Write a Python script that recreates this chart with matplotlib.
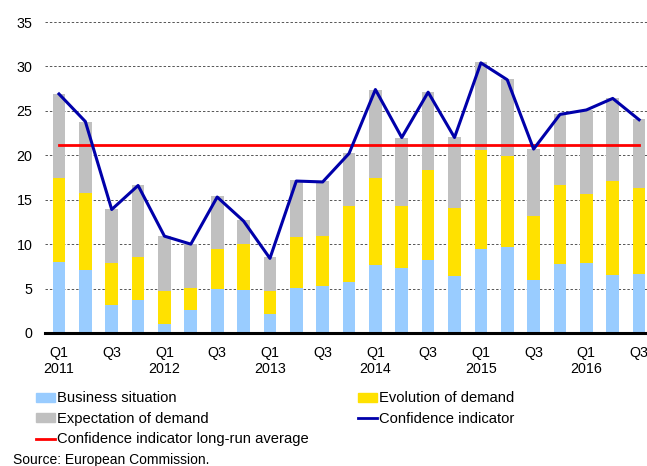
import numpy as np
import matplotlib
matplotlib.use('Agg')
from matplotlib import pylab as plt
from matplotlib.patches import Patch
from matplotlib.lines import Line2D

plt.rcParams['font.family'] = ['Liberation Sans', 'DejaVu Sans']
plt.rcParams['font.size'] = 10

# quarters 2011Q1 .. 2016Q3
quarters = ['2011Q1', '2011Q2', '2011Q3', '2011Q4', '2012Q1', '2012Q2', '2012Q3', '2012Q4',
            '2013Q1', '2013Q2', '2013Q3', '2013Q4', '2014Q1', '2014Q2', '2014Q3', '2014Q4',
            '2015Q1', '2015Q2', '2015Q3', '2015Q4', '2016Q1', '2016Q2', '2016Q3']
business = [8.0, 7.1, 3.2, 3.7, 1.05, 2.6, 4.9, 4.8, 2.1, 5.1, 5.3, 5.7,
            7.6, 7.3, 8.2, 6.4, 9.4, 9.7, 6.0, 7.8, 7.9, 6.5, 6.6]
evolution = [9.4, 8.7, 4.7, 4.9, 3.65, 2.5, 4.6, 5.2, 2.6, 5.7, 5.6, 8.6,
             9.8, 7.0, 10.2, 7.7, 11.2, 10.2, 7.2, 8.9, 7.7, 10.6, 9.7]
expectation = [9.5, 8.0, 6.0, 8.1, 6.2, 4.9, 5.9, 2.7, 3.8, 6.4, 6.2, 6.0,
               10.0, 7.7, 8.7, 8.0, 9.9, 8.7, 7.5, 8.0, 9.5, 9.4, 7.8]
confidence = [26.9, 23.8, 13.9, 16.6, 10.9, 10.0, 15.3, 12.6, 8.4, 17.1, 17.0, 20.2,
              27.4, 22.0, 27.1, 22.0, 30.4, 28.5, 20.7, 24.6, 25.1, 26.4, 24.0]
long_run_avg = 21.2

# tick labels: Q1 with year, Q3 alone
tick_labels = []
for q in quarters[::2]:
    if q.endswith('Q1'):
        tick_labels.append('Q1\n' + q[:4])
    else:
        tick_labels.append(q[4:])

c_blue = '#99CCFF'
c_yellow = '#FFE100'
c_gray = '#C0C0C0'
c_line = '#0000AA'
c_red = '#FF0000'

x = np.arange(len(quarters))
business = np.array(business)
evolution = np.array(evolution)
expectation = np.array(expectation)

fig = plt.figure(figsize=(6.47, 4.66), dpi=100)
ax = fig.add_axes([45 / 647, 1 - 333 / 466, 1 - 45 / 647, (333 - 22) / 466])

w = 0.48
ax.bar(x, business, w, color=c_blue, zorder=2)
ax.bar(x, evolution, w, bottom=business, color=c_yellow, zorder=2)
ax.bar(x, expectation, w, bottom=business + evolution, color=c_gray, zorder=2)
ax.plot(x, confidence, color=c_line, lw=2.2, zorder=4)
ax.plot([x[0], x[-1]], [long_run_avg, long_run_avg], color=c_red, lw=2.0, zorder=3)

ax.set_ylim(0, 35)
ax.set_xlim(-0.53, 22.3)
ax.set_yticks(np.arange(0, 36, 5))
ax.set_xticks(x[::2])
ax.set_xticklabels(tick_labels)
ax.tick_params(axis='both', length=0, labelsize=10.3)
ax.tick_params(axis='y', pad=9)
ax.tick_params(axis='x', pad=9)
ax.yaxis.grid(True, color='#555555', linestyle=(0, (2.5, 2)), lw=0.7, zorder=0)
for s in ['top', 'right', 'left']:
    ax.spines[s].set_visible(False)
ax.spines['bottom'].set_linewidth(2.2)
ax.spines['bottom'].set_color('black')
ax.spines['bottom'].set_zorder(5)

h1 = [Patch(color=c_blue), Patch(color=c_gray), Line2D([], [], color=c_red, lw=2)]
l1 = ['Business situation', 'Expectation of demand', 'Confidence indicator long-run average']
h2 = [Patch(color=c_yellow), Line2D([], [], color=c_line, lw=2)]
l2 = ['Evolution of demand', 'Confidence indicator']

kw = dict(loc='upper left', frameon=False, fontsize=10.6, handlelength=1.29,
          handleheight=0.6, handletextpad=0.14, labelspacing=0.44,
          borderpad=0, borderaxespad=0)
fig.legend(h1, l1, bbox_to_anchor=(36 / 647, 1 - 391.5 / 466), **kw)
fig.legend(h2, l2, bbox_to_anchor=(358 / 647, 1 - 391.5 / 466), **kw)

fig.text(13 / 647, 1 - 460 / 466, 'Source: European Commission.', fontsize=10, va='center')

plt.savefig('out.png', dpi=100)
